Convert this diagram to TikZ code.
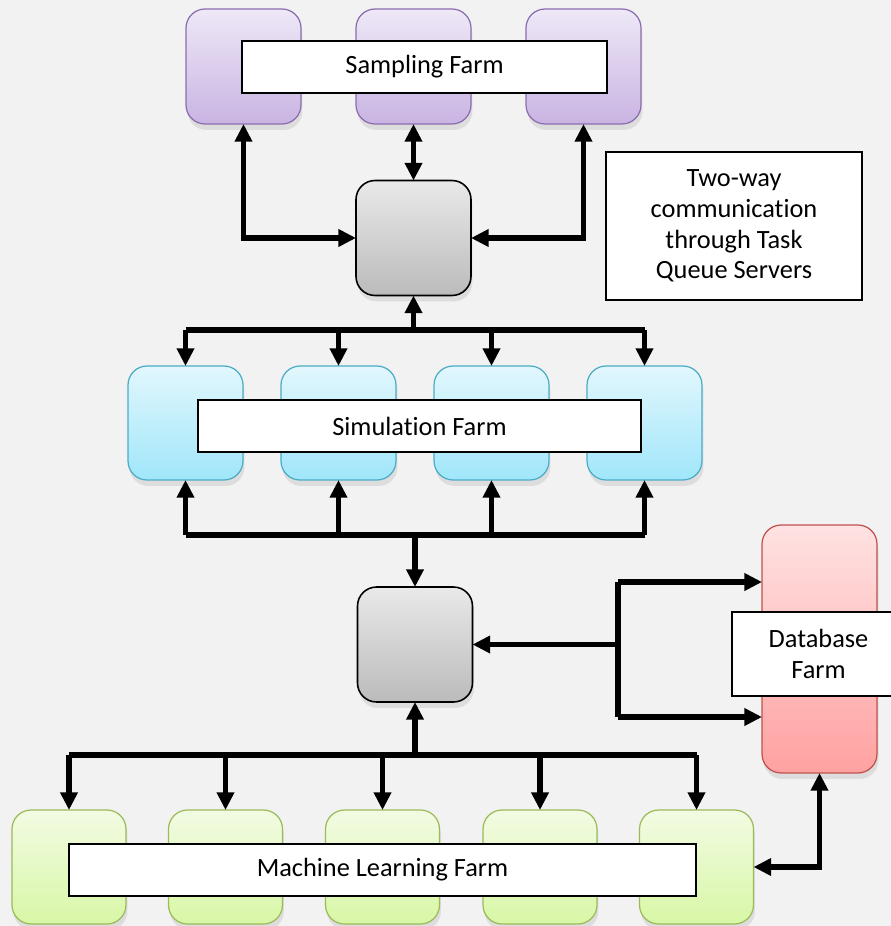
\documentclass[tikz,border=0pt]{standalone}
\usepackage{fontspec}
\setmainfont{Carlito}[Ligatures=NoCommon]
\usetikzlibrary{arrows.meta,shadows}

\definecolor{canvas}{HTML}{F2F2F2}
\definecolor{sampTop}{HTML}{EEE8F7}
\definecolor{sampBot}{HTML}{C9B4E2}
\definecolor{sampLine}{HTML}{8A6DB0}
\definecolor{simTop}{HTML}{E2F7FD}
\definecolor{simBot}{HTML}{A0E6FA}
\definecolor{simLine}{HTML}{4BACC6}
\definecolor{mlTop}{HTML}{F2FBE3}
\definecolor{mlBot}{HTML}{D8F7A6}
\definecolor{mlLine}{HTML}{9BBB59}
\definecolor{dbTop}{HTML}{FFE2E2}
\definecolor{dbBot}{HTML}{FFA1A1}
\definecolor{dbLine}{HTML}{C0504D}
\definecolor{srvTop}{HTML}{E9E9E9}
\definecolor{srvBot}{HTML}{BBBBBB}

\tikzset{
  farm/.style={rectangle, inner sep=0pt, outer sep=0pt, line width=0.7pt,
    rounded corners=0.38cm, minimum width=2.3cm, minimum height=2.3cm,
    drop shadow={opacity=0.18, shadow xshift=0.3mm, shadow yshift=-1.2mm}},
  sampbox/.style={farm, draw=sampLine, top color=sampTop, bottom color=sampBot},
  simbox/.style={farm, draw=simLine, top color=simTop, bottom color=simBot, minimum height=2.28cm},
  mlbox/.style={farm, draw=mlLine, top color=mlTop, bottom color=mlBot, minimum width=2.28cm, minimum height=2.28cm},
  dbbox/.style={farm, draw=dbLine, top color=dbTop, bottom color=dbBot, minimum height=4.96cm},
  server/.style={farm, draw=black, line width=0.9pt, top color=srvTop, bottom color=srvBot},
  tag/.style={rectangle, draw=black, fill=white, line width=0.9pt, inner sep=0pt,
    minimum height=1.04cm, font=\fontsize{15}{17.5}\selectfont, align=center},
  link/.style={line width=3pt, line join=miter, draw=black,
    >={Triangle[length=10pt,width=9.5pt]}}
}

\begin{document}
\begin{tikzpicture}[x=0.02cm, y=-0.02cm]
  % page
  \fill[canvas] (0,0) rectangle (891,926);
  \useasboundingbox (0,0) rectangle (891,926);

  % farms and servers
  \node[sampbox] (samp1) at (243.5,66.5) {};
  \node[sampbox] (samp2) at (413.5,66.5) {};
  \node[sampbox] (samp3) at (583.5,66.5) {};
  \node[server] (srvA) at (413.5,238) {};
  \foreach \i/\x in {1/185.5, 2/338.5, 3/491.5, 4/644.5}
    \node[simbox] (sim\i) at (\x,423) {};
  \node[server] (srvB) at (415,644.5) {};
  \node[dbbox] (db) at (819.5,649) {};
  \foreach \i/\x in {1/69, 2/225.5, 3/382.5, 4/540, 5/696.5}
    \node[mlbox] (ml\i) at (\x,867) {};

  % labels
  \node[tag, minimum width=7.3cm] (sampL) at (424.5,67) {Sampling Farm};
  \node[tag, minimum width=8.86cm] (simL) at (419.5,426) {Simulation Farm};
  \node[tag, minimum width=12.54cm] (mlL) at (382.5,870) {Machine Learning Farm};
  \node[tag, minimum width=3.46cm, minimum height=1.68cm] (dbL) at (818.5,654) {Database\\Farm};
  \node[tag, minimum width=5.12cm, minimum height=2.96cm] (note) at (734,226)
    {Two-way\\communication\\through Task\\Queue Servers};

  % sampling <-> server
  \draw[link,<->] (samp1.south) |- (srvA.west);
  \draw[link,<->] (samp3.south) |- (srvA.east);
  \draw[link,<->] (samp2.south) -- (srvA.north);

  % simulation buses
  \coordinate (topbus) at (413.5,330);
  \coordinate (midbus) at (415,535);
  \draw[link] (sim1.north |- topbus) -- (sim4.north |- topbus);
  \draw[link] (sim1.south |- midbus) -- (sim4.south |- midbus);
  \foreach \i in {1,...,4} {
    \draw[link,->] (sim\i.north |- topbus) -- (sim\i.north);
    \draw[link,->] (sim\i.south |- midbus) -- (sim\i.south);
  }
  \draw[link,->] (topbus) -- (srvA.south);
  \draw[link,->] (midbus) -- (srvB.north);

  % database fork
  \coordinate (dbtop) at (618,582);
  \coordinate (dbbot) at (618,717);
  \draw[link] (dbtop) -- (dbbot);
  \draw[link,->] (dbtop) -- (db.west |- dbtop);
  \draw[link,->] (dbbot) -- (db.west |- dbbot);
  \draw[link,->] (dbtop |- srvB.east) -- (srvB.east);

  % machine learning bus
  \coordinate (mlbus) at (415,755);
  \draw[link] (ml1.north |- mlbus) -- (ml5.north |- mlbus);
  \foreach \i in {1,...,5}
    \draw[link,->] (ml\i.north |- mlbus) -- (ml\i.north);
  \draw[link,->] (mlbus) -- (srvB.south);
  \draw[link,<->] (db.south) |- (ml5.east);
\end{tikzpicture}
\end{document}
